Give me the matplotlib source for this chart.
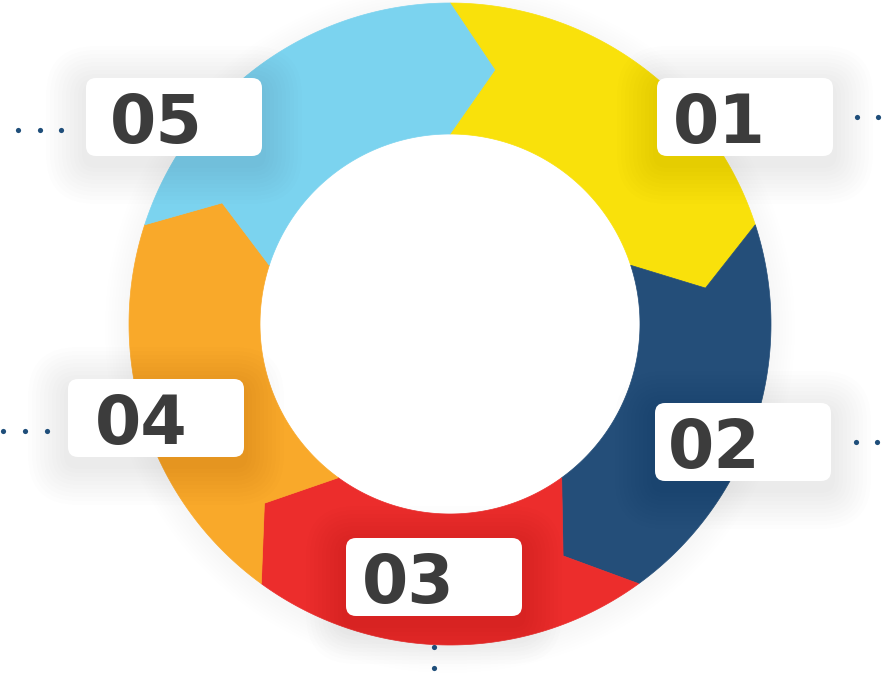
import numpy as np
import matplotlib.pyplot as plt
from matplotlib.patches import Polygon, FancyBboxPatch, Circle

# data
labels = ["01", "02", "03", "04", "05"]
shares = [1, 1, 1, 1, 1]
colors = ["#F9E10B", "#244E79", "#EC2D2C", "#F9A92A", "#7BD3EF"]

# layout (pixels)
cx, cy = 450, 324
r_out, r_in, r_tip = 321, 190, 258
tip_deg = 10
boxes = [(657, 78), (655, 403), (346, 538), (68, 379), (86, 78)]  # top-left corners
box_w, box_h = 176, 78
text_pad = [16, 13, 16, 27, 24]
dots = [([857, 878], [117, 117]), ([856, 877], [442, 442]), ([434, 434], [647, 668]),
        ([3, 25, 47], [431, 431, 431]), ([18, 40, 61], [130, 130, 130])]

plt.rcParams['font.family'] = ['DejaVu Sans']
fig = plt.figure(figsize=(8.93, 6.74), dpi=100)
ax = fig.add_axes([0, 0, 1, 1])
ax.set_xlim(0, 893)
ax.set_ylim(674, 0)
ax.axis('off')


def pt(r, deg):
    a = np.radians(deg)
    return cx + r * np.cos(a), cy - r * np.sin(a)


def segment(a0, a1):
    # clockwise from a0 to a1 (a1 < a0), notch at start, arrow tip at end
    pts = [pt(r_out, a) for a in np.linspace(a0, a1, 80)]
    pts.append(pt(r_tip, a1 - tip_deg))
    pts += [pt(r_in, a) for a in np.linspace(a1, a0, 80)]
    pts.append(pt(r_tip, a0 - tip_deg))
    return pts


# faint glow around the ring
for k in range(24, 0, -3):
    ax.add_patch(Circle((cx, cy + 4), r_out + k, color="black", alpha=0.004, lw=0, zorder=0))
ax.add_patch(Circle((cx, cy), r_in + 2, color="white", lw=0, zorder=0.5))

total = sum(shares)
start = 90
for lab, s, c in zip(labels, shares, colors):
    end = start - 360 * s / total
    ax.add_patch(Polygon(segment(start, end), closed=True, facecolor=c, edgecolor=c, lw=0.5, zorder=1))
    start = end

# label boxes with soft shadow
for i, (lab, (x, y)) in enumerate(zip(labels, boxes)):
    for k in range(40, 0, -4):
        ax.add_patch(FancyBboxPatch((x - k, y - k + 8), box_w + 2 * k, box_h + 2 * k,
                                    boxstyle="round,pad=0,rounding_size=%d" % (10 + k),
                                    facecolor="black", edgecolor="none", alpha=0.007, zorder=2))
    ax.add_patch(FancyBboxPatch((x, y), box_w, box_h, boxstyle="round,pad=0,rounding_size=10",
                                facecolor="white", edgecolor="none", zorder=3))
    ax.text(x + text_pad[i], y + 65, lab, fontsize=48, fontweight="bold",
            color="#3C3C3C", ha="left", va="baseline", zorder=4)
    dx, dy = dots[i]
    ax.scatter(dx, dy, s=14, color="#1F4E7A", zorder=4, linewidths=0)

plt.savefig("out.png", dpi=100)
